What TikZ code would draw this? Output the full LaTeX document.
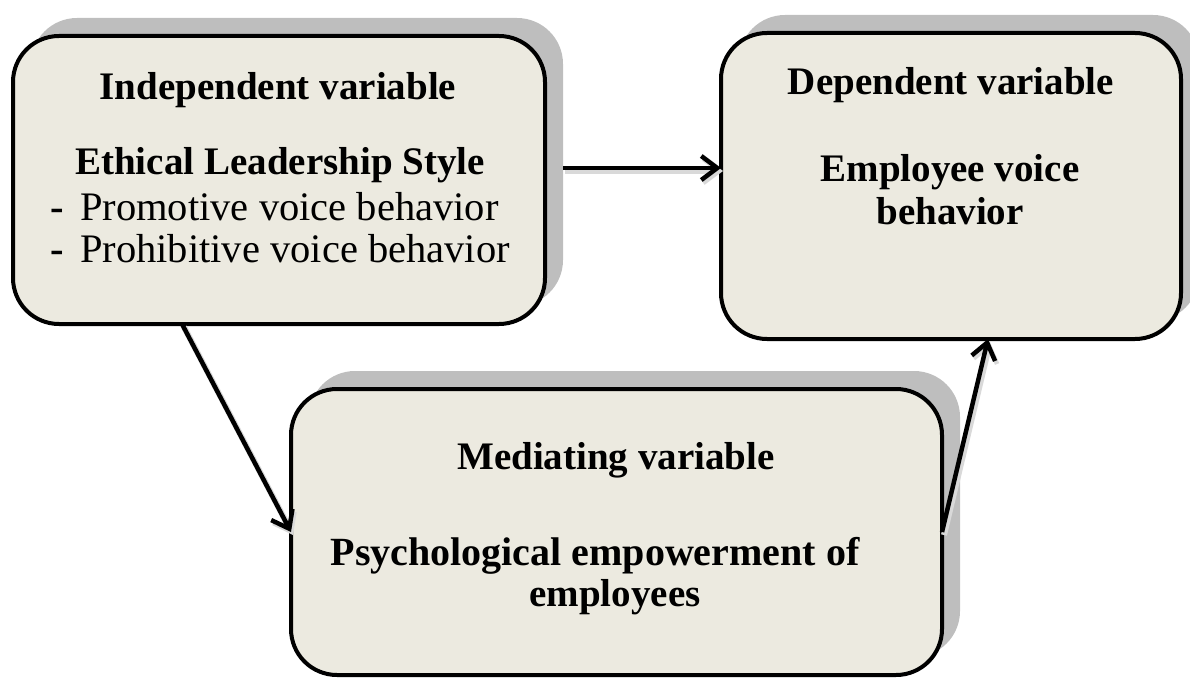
\documentclass[tikz,border=0pt]{standalone}
\usepackage{fontspec}
\setmainfont{Liberation Serif}
\usetikzlibrary{arrows.meta,shadows}
\definecolor{boxfill}{RGB}{236,234,224}
\definecolor{shade}{RGB}{190,190,190}
\begin{document}
\begin{tikzpicture}[x=1pt,y=-1pt,
  box/.style={draw=black, line width=4pt, fill=boxfill, rounded corners=46pt,
    inner sep=0pt, outer sep=0pt,
    drop shadow={shadow xshift=18pt, shadow yshift=18pt, fill=shade, opacity=1}},
  ttl/.style={font=\fontsize{39}{46}\selectfont\bfseries, anchor=base, inner sep=0pt},
  itm/.style={font=\fontsize{40.5}{46}\selectfont, anchor=base west, inner sep=0pt},
  arr/.style={line width=4.5pt, -{Straight Barb[length=16pt,width=24pt,line width=4.5pt]},
    preaction={draw=black!15, line width=6pt, transform canvas={xshift=2pt,yshift=-3pt}}}
]
\useasboundingbox (0,0) rectangle (1190,679);

% the three variable boxes
\node[box, minimum width=532pt, minimum height=288pt] (A) at (279,180) {};
\node[box, minimum width=460pt, minimum height=306pt] (B) at (951,186) {};
\node[box, minimum width=651pt, minimum height=286pt] (C) at (616.5,532) {};

% independent variable
\node[ttl] (a1) at (278,100) {Independent variable};
\node[ttl] (a2) at (280,175) {Ethical Leadership Style};
\node[itm] (a3) at (50,220) {\makebox[30pt][l]{\textbf{-}}Promotive voice behavior};
\node[itm] (a4) at (50,262) {\makebox[30pt][l]{\textbf{-}}Prohibitive voice behavior};

% dependent variable
\node[ttl] (b1) at (951,95) {Dependent variable};
\node[ttl] (b2) at (950,182) {Employee voice};
\node[ttl] (b3) at (950,224) {behavior};

% mediating variable
\node[ttl] (c1) at (616,469) {Mediating variable};
\node[ttl, font=\fontsize{40}{46}\selectfont\bfseries] (c2) at (595,565) {Psychological empowerment of};
\node[ttl] (c3) at (615,606) {employees};

% relations
\draw[arr] ([xshift=18pt,yshift=12pt]A.east) -- ([yshift=12pt]A.east -| B.west);
\draw[arr] ([xshift=-97pt]A.south) -- (C.west);
\draw[arr] (C.east) -- ([xshift=37pt]B.south);
\end{tikzpicture}
\end{document}
